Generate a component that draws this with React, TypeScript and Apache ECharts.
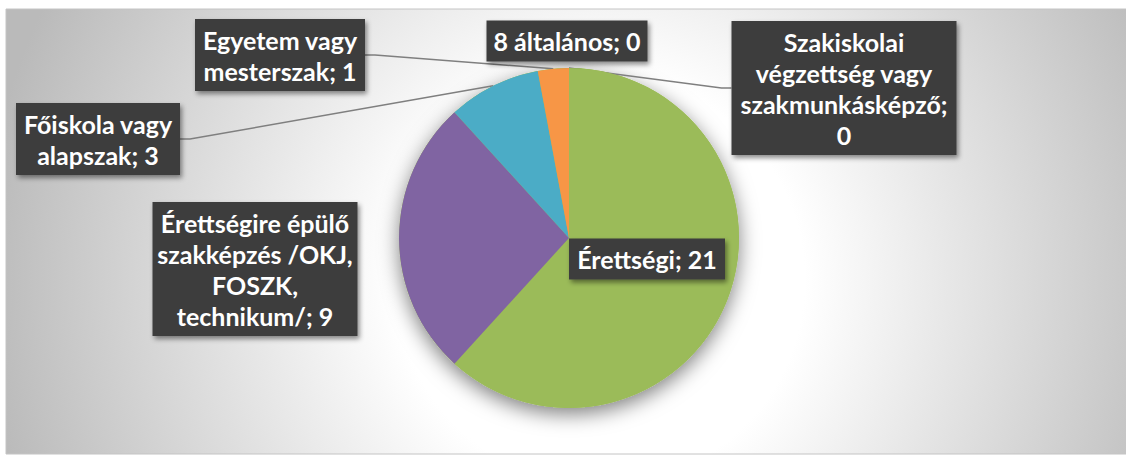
import React, { useEffect, useRef } from 'react';
import * as echarts from 'echarts';

const categories = [
  '8 általános',
  'Szakiskolai végzettség vagy szakmunkásképző',
  'Érettségi',
  'Érettségire épülő szakképzés /OKJ, FOSZK, technikum/',
  'Főiskola vagy alapszak',
  'Egyetem vagy mesterszak',
];
const values = [0, 0, 21, 9, 3, 1];
const colors = ['#4F81BD', '#C0504D', '#9BBB59', '#8064A2', '#4BACC6', '#F79646'];

// label layout (box centre, box width, wrap length, leader line shown)
const labelCenters = [[567, 41], [844, 88], [647, 259], [255, 269], [98, 139], [280, 55]];
const labelBoxWidths = [161, 225, 156, 205, 164, 170];
const labelWrapChars = [16, 16, 16, 17, 14, 14];
const labelLeader = [false, true, false, false, true, true];

function wrap(text: string, max: number): string {
  const words = text.split(' ');
  const lines: string[] = [];
  let cur = '';
  for (const w of words) {
    if (!cur) cur = w;
    else if ((cur + ' ' + w).length <= max) cur = cur + ' ' + w;
    else {
      lines.push(cur);
      cur = w;
    }
  }
  if (cur) lines.push(cur);
  return lines.join('\n');
}

export default function App() {
  const ref = useRef<HTMLDivElement>(null);
  useEffect(() => {
    const chart = echarts.init(ref.current!, undefined, { renderer: 'svg' });
    const total = values.reduce((a, b) => a + b, 0);
    chart.setOption({
      animation: false,
      graphic: [
        {
          type: 'rect',
          z: -10,
          silent: true,
          shape: { x: 6, y: 9, width: 1130, height: 445 },
          style: {
            fill: new echarts.graphic.RadialGradient(600, 280, 620, [
              { offset: 0, color: '#ffffff' },
              { offset: 0.33, color: '#ffffff' },
              { offset: 1, color: '#bababa' },
            ], true),
            stroke: '#c4c4c4',
            lineWidth: 1,
          },
        },
      ],
      series: [
        {
          type: 'pie',
          silent: true,
          center: [569, 238],
          radius: 170,
          z: 1,
          label: { show: false },
          labelLine: { show: false },
          itemStyle: {
            color: '#9BBB59',
            shadowBlur: 20,
            shadowColor: 'rgba(0,0,0,0.5)',
            shadowOffsetY: 6,
          },
          data: [{ value: total, name: 'shadow' }],
        },
        {
          type: 'pie',
          center: [569, 238],
          radius: 170,
          startAngle: 90,
          clockwise: true,
          z: 2,
          avoidLabelOverlap: false,
          minShowLabelAngle: 0,
          itemStyle: { borderWidth: 0 },
          label: {
            show: true,
            formatter: (p: any) => wrap(`${p.name}; ${p.value}`, labelWrapChars[p.dataIndex]),
            color: '#ffffff',
            fontFamily: 'Lato',
            fontWeight: 'bold',
            fontSize: 25,
            lineHeight: 31,
            backgroundColor: '#3d3d3d',
            padding: [5, 0],
            align: 'center',
            shadowColor: 'rgba(0,0,0,0.45)',
            shadowBlur: 5,
            shadowOffsetX: 2,
            shadowOffsetY: 3,
          },
          labelLine: {
            show: true,
            length: 10,
            length2: 10,
            lineStyle: { color: '#7f7f7f', width: 1.5 },
          },
          labelLayout: (params: any) => {
            const i = params.dataIndex;
            return {
              x: labelCenters[i][0],
              y: labelCenters[i][1],
              align: 'center',
              verticalAlign: 'middle',
              hideOverlap: false,
            };
          },
          data: categories.map((name, i) => ({
            name,
            value: values[i],
            itemStyle: { color: colors[i] },
            label: { width: labelBoxWidths[i] },
            labelLine: { show: labelLeader[i] },
          })),
        },
      ],
    });
    return () => chart.dispose();
  }, []);
  return (
    <div
      ref={ref}
      style={{ position: 'fixed', left: 0, top: 0, width: 1126, height: 459, background: '#ffffff' }}
    />
  );
}
